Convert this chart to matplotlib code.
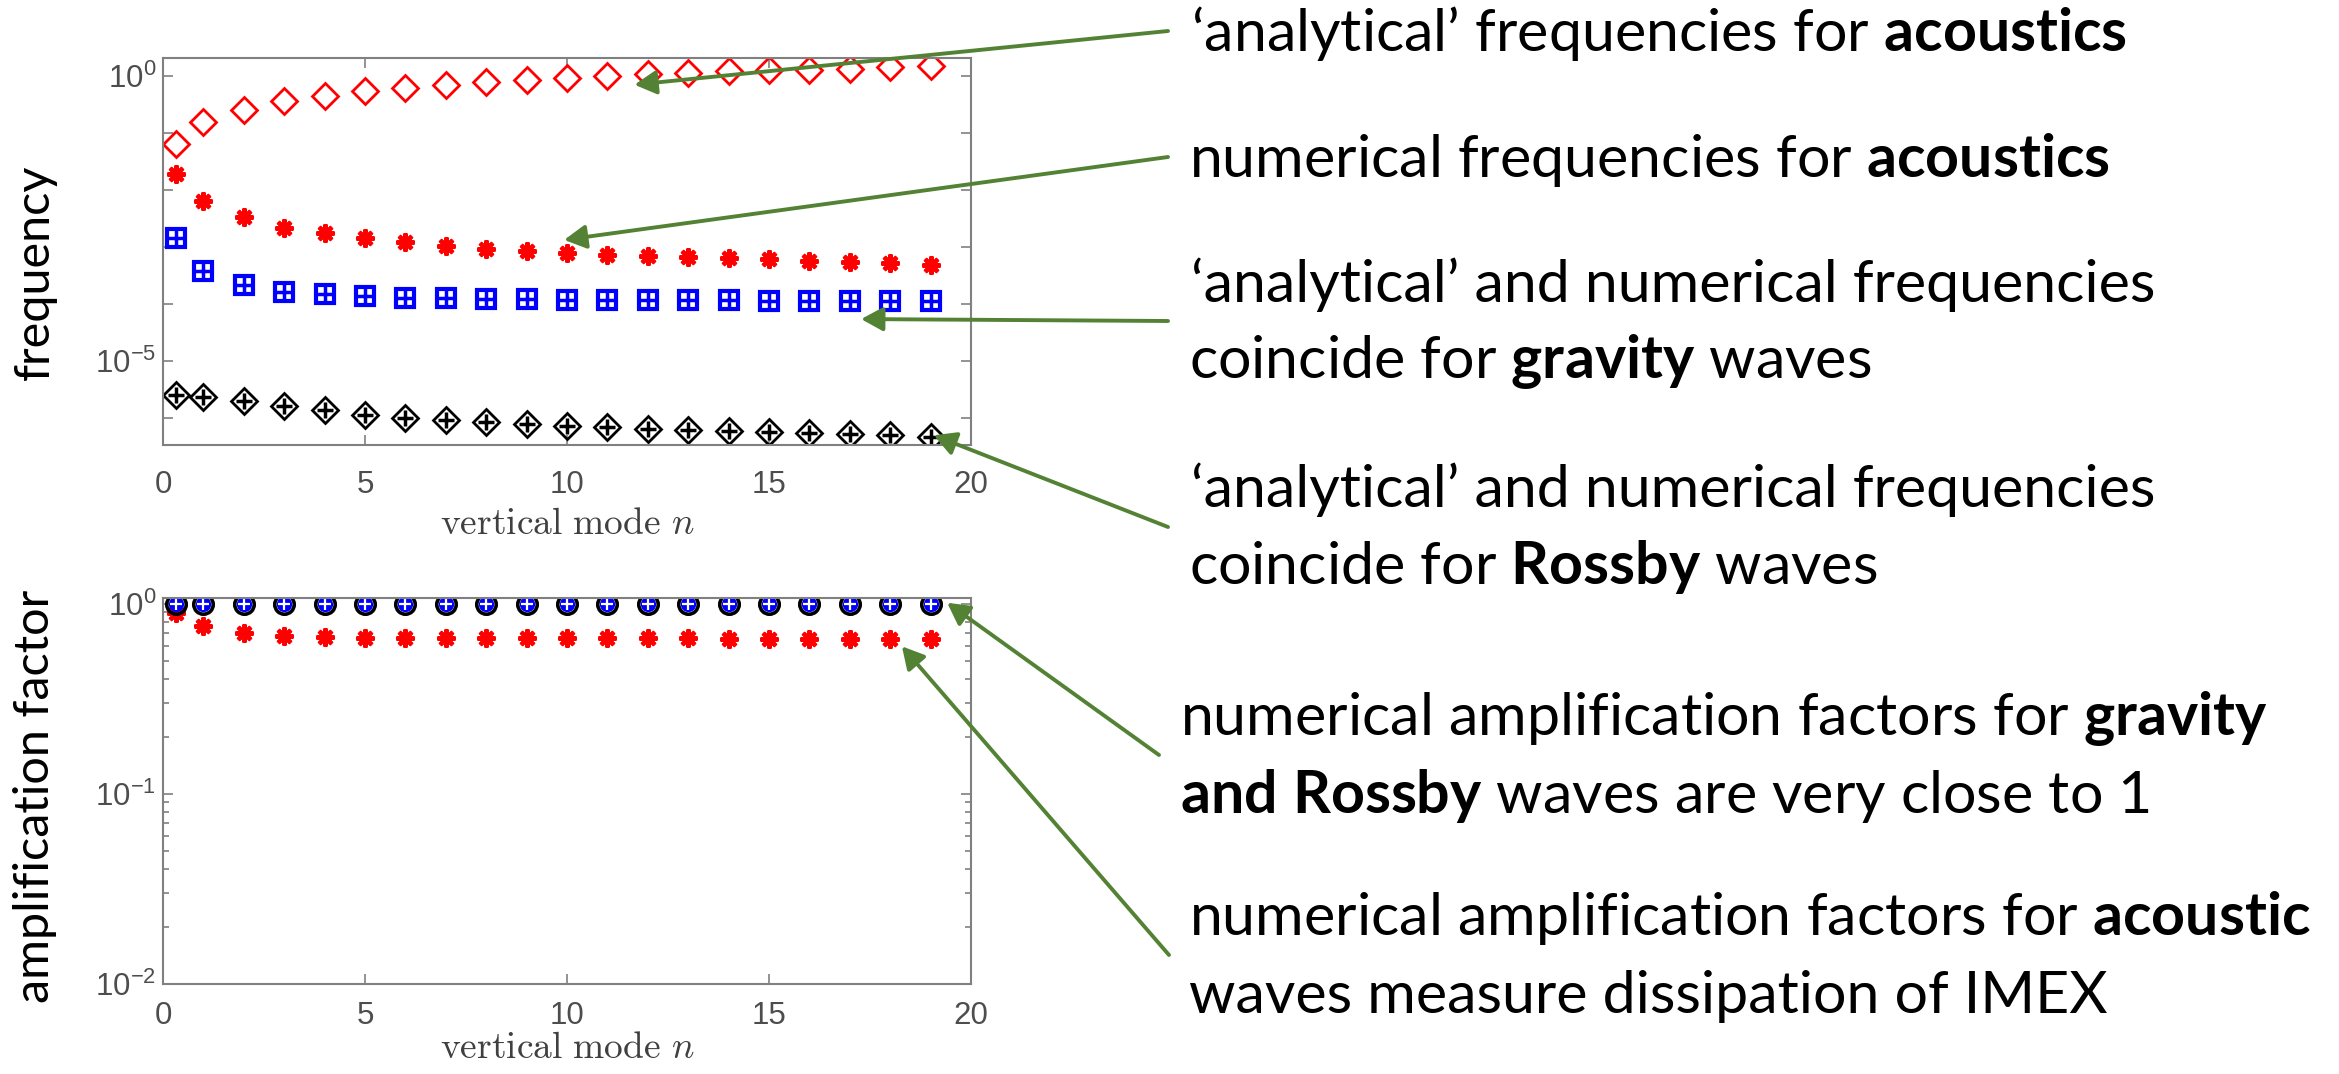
import numpy as np
import matplotlib
matplotlib.use("Agg")
import matplotlib.pyplot as plt
from matplotlib.ticker import FixedLocator, FuncFormatter, LogLocator, NullFormatter, NullLocator

plt.rcParams["font.family"] = ["Liberation Sans", "DejaVu Sans"]
plt.rcParams["mathtext.fontset"] = "custom"
plt.rcParams["mathtext.rm"] = "Lato"
plt.rcParams["mathtext.bf"] = "Lato:bold"

W, H = 2339, 1074

# vertical mode numbers
n = [0.33, 1, 2, 3, 4, 5, 6, 7, 8, 9, 10, 11, 12, 13, 14, 15, 16, 17, 18, 19]

# frequencies
freq_acoustic_analytical = [0.064, 0.154, 0.253, 0.355, 0.434, 0.531, 0.608, 0.695, 0.774, 0.851,
                            0.910, 1.00, 1.08, 1.13, 1.19, 1.24, 1.27, 1.33, 1.40, 1.50]
freq_acoustic_numerical = [1.91e-2, 6.41e-3, 3.40e-3, 2.18e-3, 1.74e-3, 1.42e-3, 1.21e-3, 1.04e-3,
                           9.2e-4, 8.6e-4, 7.96e-4, 7.24e-4, 6.95e-4, 6.59e-4, 6.32e-4, 6.08e-4,
                           5.75e-4, 5.53e-4, 5.16e-4, 4.83e-4]
freq_gravity_analytical = [1.46e-3, 3.85e-4, 2.15e-4, 1.60e-4, 1.48e-4, 1.38e-4, 1.29e-4, 1.26e-4,
                           1.22e-4, 1.21e-4, 1.19e-4, 1.17e-4, 1.17e-4, 1.16e-4, 1.16e-4, 1.14e-4,
                           1.14e-4, 1.13e-4, 1.13e-4, 1.13e-4]
freq_gravity_numerical = list(freq_gravity_analytical)
freq_rossby_analytical = [2.54e-6, 2.37e-6, 1.99e-6, 1.63e-6, 1.38e-6, 1.16e-6, 1.01e-6, 9.2e-7,
                          8.6e-7, 7.9e-7, 7.3e-7, 7.0e-7, 6.6e-7, 6.3e-7, 6.0e-7, 5.75e-7,
                          5.53e-7, 5.24e-7, 5.04e-7, 4.76e-7]
freq_rossby_numerical = list(freq_rossby_analytical)

# amplification factors
amp_acoustic = [0.89, 0.76, 0.70, 0.675, 0.667, 0.662, 0.660, 0.659, 0.658, 0.657,
                0.657, 0.656, 0.656, 0.656, 0.655, 0.655, 0.655, 0.655, 0.655, 0.655]
amp_gravity = [0.99, 0.99, 0.99, 0.99, 0.99, 0.99, 0.99, 0.99, 0.99, 0.99,
               0.99, 0.99, 0.99, 0.99, 0.99, 0.99, 0.99, 0.99, 0.99, 0.99]
amp_rossby = list(amp_gravity)

GREEN = "#548235"
GREY = "#808080"
TICKC = "#4d4d4d"

fig = plt.figure(figsize=(W / 100, H / 100), dpi=100)
ax1 = fig.add_axes([163 / W, 1 - 445 / H, 808 / W, 387 / H])
ax2 = fig.add_axes([163 / W, 1 - 984 / H, 808 / W, 386 / H])


def style(ax, xpad):
    ax.set_yscale("log")
    ax.set_xlim(0, 20)
    ax.set_xticks([0, 5, 10, 15, 20])
    for s in ax.spines.values():
        s.set_color(GREY)
        s.set_linewidth(1.5)
    ax.tick_params(which="both", direction="in", top=True, right=True, color=GREY,
                   width=1.2, labelcolor=TICKC, labelsize=22.5)
    ax.tick_params(which="major", length=7)
    ax.tick_params(which="minor", length=4)
    ax.tick_params(axis="x", pad=xpad)
    ax.tick_params(axis="y", pad=5)


# top: frequencies
ax1.plot(n, freq_acoustic_analytical, ls="none", marker="D", ms=13.5, mfc="none", mec="red", mew=2)
ax1.plot(n, freq_acoustic_numerical, ls="none", marker=(8, 2, 0), ms=13, color="red", mew=3)
ax1.plot(n, freq_gravity_analytical, ls="none", marker="s", ms=12.5, mfc="none", mec="blue", mew=3)
ax1.plot(n, freq_gravity_numerical, ls="none", marker="+", ms=12.5, color="blue", mew=2.5)
ax1.plot(n, freq_rossby_analytical, ls="none", marker="D", ms=13.5, mfc="none", mec="black", mew=2)
ax1.plot(n, freq_rossby_numerical, ls="none", marker="+", ms=11, color="black", mew=2.5)
style(ax1, 18)
ax1.set_ylim(3.4e-7, 2.04)
ax1.yaxis.set_major_locator(FixedLocator([1e-6, 1e-5, 1e-4, 1e-3, 1e-2, 1e-1, 1e0]))
ax1.yaxis.set_minor_locator(NullLocator())


def top_fmt(v, pos):
    e = int(round(np.log10(v)))
    return r"$\mathdefault{10^{%d}}$" % e if e in (0, -5) else ""


ax1.yaxis.set_major_formatter(FuncFormatter(top_fmt))

# bottom: amplification factors
ax2.plot(n, amp_acoustic, ls="none", marker=(8, 2, 0), ms=13, color="red", mew=3)
ax2.plot(n, amp_rossby, ls="none", marker="o", ms=14, mfc="none", mec="black", mew=2.6)
ax2.plot(n, amp_gravity, ls="none", marker="o", ms=11, mfc="blue", mec="none")
ax2.plot(n, amp_gravity, ls="none", marker="+", ms=9, color="white", mew=1.6)
style(ax2, 12)
ax2.set_ylim(1e-2, 1.07)
ax2.yaxis.set_major_locator(LogLocator(base=10))
ax2.yaxis.set_minor_locator(LogLocator(base=10, subs=np.arange(2, 10)))
ax2.yaxis.set_minor_formatter(NullFormatter())

# axis labels
for ax, ylab, ly, lx_y in [(ax1, "frequency", 0.447, -0.158), (ax2, "amplification factor", 0.486, -0.119)]:
    ax.set_ylabel(ylab, family="Lato", fontsize=35, color="black", va="center")
    ax.yaxis.set_label_coords(-0.159, ly)
    ax.set_xlabel(r"$\mathrm{vertical\ mode}\ n$", math_fontfamily="cm", fontsize=27, color="#404040")
    ax.xaxis.set_label_coords(0.5, lx_y)

# annotation texts (x, baseline in image pixels from top-left)
notes = [
    (1191, 51, r"‘analytical’ frequencies for $\mathbf{acoustics}$"),
    (1189, 177, r"numerical frequencies for $\mathbf{acoustics}$"),
    (1191, 302, r"‘analytical’ and numerical frequencies"),
    (1189, 378, r"coincide for $\mathbf{gravity}$ waves"),
    (1191, 507, r"‘analytical’ and numerical frequencies"),
    (1189, 584, r"coincide for $\mathbf{Rossby}$ waves"),
    (1180, 735, r"numerical amplification factors for $\mathbf{gravity}$"),
    (1180, 813, r"$\mathbf{and}$ $\mathbf{Rossby}$ waves are very close to 1"),
    (1189, 935, r"numerical amplification factors for $\mathbf{acoustic}$"),
    (1189, 1013, r"waves measure dissipation of IMEX"),
]
for x, y, s in notes:
    fig.text(x / W, 1 - y / H, s, family="Lato", fontsize=42.6, color="black",
             ha="left", va="baseline")

# arrows: (axes, target in data coords, start in image pixels)
arrows = [
    (ax1, (11.67, 0.695), (1168, 31)),
    (ax1, (9.93, 1.33e-3), (1168, 157)),
    (ax1, (17.28, 5.46e-5), (1168, 321)),
    (ax1, (19.08, 5.03e-7), (1168, 527)),
    (ax2, (19.41, 1.01), (1159, 755)),
    (ax2, (18.29, 0.596), (1169, 955)),
]
for ax, xy, (px, py) in arrows:
    ax.annotate("", xy=xy, xycoords="data", xytext=(px, H - py), textcoords="figure pixels",
                annotation_clip=False,
                arrowprops=dict(arrowstyle="-|>,head_length=0.55,head_width=0.3", color=GREEN,
                                lw=2.8, shrinkA=0, shrinkB=0, mutation_scale=24))

fig.savefig("out.png", dpi=100)
